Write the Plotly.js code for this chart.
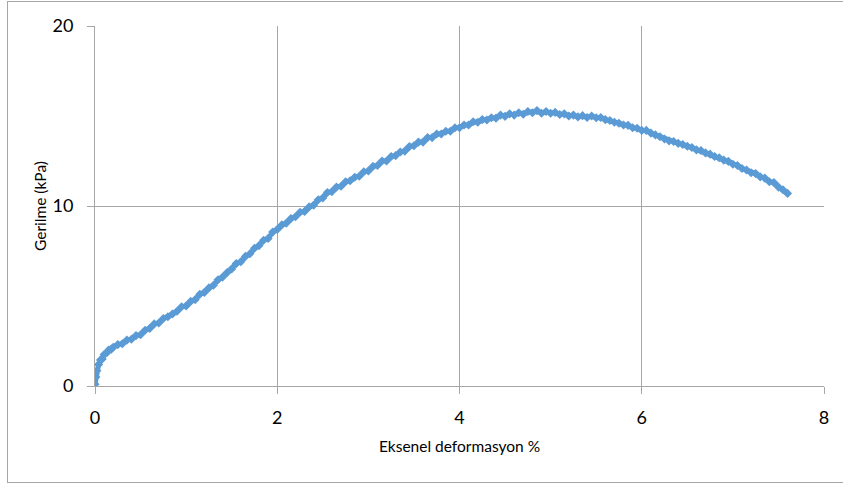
<!DOCTYPE html>
<html>
<head>
<meta charset="utf-8">
<script src="https://cdn.plot.ly/plotly-3.0.1.min.js"></script>
<style>
  html, body { margin: 0; padding: 0; background: #ffffff; }
  #frame { position: absolute; left: 7px; top: 1px; width: 850px; height: 482px; border: 1px solid #a6a6a6; box-sizing: border-box; pointer-events: none; z-index: 5; }
  #chart { position: absolute; left: 0; top: 0; width: 843px; height: 486px; }
</style>
</head>
<body>
<div id="chart"></div>
<div id="frame"></div>
<script>
// Eksenel deformasyon (%)
const strain = [
  0, 0.01, 0.02, 0.04, 0.06, 0.08, 0.1, 0.13, 0.15, 0.18,
  0.2, 0.25, 0.3, 0.35, 0.4, 0.45, 0.5, 0.55, 0.6, 0.65,
  0.7, 0.75, 0.8, 0.85, 0.9, 0.95, 1.0, 1.05, 1.1, 1.15,
  1.2, 1.25, 1.3, 1.35, 1.4, 1.45, 1.5, 1.55, 1.6, 1.65,
  1.7, 1.75, 1.8, 1.85, 1.9, 1.95, 2.0, 2.05, 2.1, 2.15,
  2.2, 2.25, 2.3, 2.35, 2.4, 2.45, 2.5, 2.55, 2.6, 2.65,
  2.7, 2.75, 2.8, 2.85, 2.9, 2.95, 3.0, 3.05, 3.1, 3.15,
  3.2, 3.25, 3.3, 3.35, 3.4, 3.45, 3.5, 3.55, 3.6, 3.65,
  3.7, 3.75, 3.8, 3.85, 3.9, 3.95, 4.0, 4.05, 4.1, 4.15,
  4.2, 4.25, 4.3, 4.35, 4.4, 4.45, 4.5, 4.55, 4.6, 4.65,
  4.7, 4.75, 4.8, 4.85, 4.9, 4.95, 5.0, 5.05, 5.1, 5.15,
  5.2, 5.25, 5.3, 5.35, 5.4, 5.45, 5.5, 5.55, 5.6, 5.65,
  5.7, 5.75, 5.8, 5.85, 5.9, 5.95, 6.0, 6.05, 6.1, 6.15,
  6.2, 6.25, 6.3, 6.35, 6.4, 6.45, 6.5, 6.55, 6.6, 6.65,
  6.7, 6.75, 6.8, 6.85, 6.9, 6.95, 7.0, 7.05, 7.1, 7.15,
  7.2, 7.25, 7.3, 7.35, 7.4, 7.45, 7.5, 7.55, 7.6
];
// Gerilme (kPa)
const stress = [
  0.1, 0.5, 0.85, 1.2, 1.45, 1.5, 1.75, 1.85, 2.0, 2.05,
  2.15, 2.3, 2.35, 2.55, 2.6, 2.8, 2.85, 3.1, 3.2, 3.45,
  3.5, 3.75, 3.85, 4.0, 4.15, 4.4, 4.45, 4.7, 4.8, 5.1,
  5.2, 5.45, 5.6, 5.9, 6.05, 6.3, 6.5, 6.8, 6.9, 7.2,
  7.35, 7.65, 7.8, 8.1, 8.2, 8.55, 8.7, 8.95, 9.05, 9.3,
  9.4, 9.65, 9.7, 9.95, 10.05, 10.35, 10.45, 10.75, 10.8, 11.05,
  11.1, 11.35, 11.4, 11.6, 11.65, 11.9, 11.95, 12.2, 12.25, 12.5,
  12.5, 12.75, 12.8, 13.0, 13.05, 13.3, 13.35, 13.55, 13.55, 13.8,
  13.8, 14.0, 14.0, 14.15, 14.15, 14.35, 14.35, 14.5, 14.5, 14.68,
  14.65, 14.8, 14.78, 14.9, 14.88, 15.05, 14.98, 15.12, 15.05, 15.18,
  15.1, 15.25, 15.18, 15.3, 15.15, 15.25, 15.15, 15.2, 15.08, 15.12,
  15.0, 15.05, 14.95, 15.02, 14.92, 15.0, 14.9, 14.92, 14.8, 14.75,
  14.65, 14.6, 14.5, 14.48, 14.35, 14.32, 14.2, 14.2, 14.05, 13.95,
  13.85, 13.72, 13.62, 13.58, 13.48, 13.42, 13.32, 13.25, 13.12, 13.08,
  12.95, 12.88, 12.75, 12.68, 12.55, 12.48, 12.32, 12.25, 12.08, 12.0,
  11.85, 11.8, 11.62, 11.55, 11.35, 11.3, 11.05, 10.9, 10.7
];
const xTicks = [0, 2, 4, 6, 8];
const yTicks = [0, 10, 20];

const trace = {
  x: strain, y: stress, type: 'scatter', mode: 'lines+markers',
  line: { color: '#5B9BD5', width: 5 },
  marker: { color: '#5B9BD5', size: 7, symbol: 'diamond' },
  hoverinfo: 'skip', showlegend: false
};

const gridCol = '#a6a6a6';
const layout = {
  width: 843, height: 486,
  margin: { l: 95, r: 19, t: 26, b: 100, pad: 0 },
  paper_bgcolor: '#ffffff', plot_bgcolor: '#ffffff',
  font: { family: 'Lato, "Open Sans", sans-serif', color: '#000000' },
  xaxis: {
    range: [0, 8], tickvals: xTicks, ticktext: xTicks.map(String),
    showgrid: true, gridcolor: gridCol, gridwidth: 1,
    showline: true, linecolor: gridCol, linewidth: 1,
    zeroline: false, ticks: 'outside', ticklen: 7, tickcolor: gridCol,
    ticklabelstandoff: 8,
    tickfont: { size: 18, color: '#000000' },
    title: { text: 'Eksenel deformasyon %', font: { size: 15.5, color: '#000000' }, standoff: 14 }
  },
  yaxis: {
    range: [0, 20], tickvals: yTicks, ticktext: yTicks.map(String),
    showgrid: true, gridcolor: gridCol, gridwidth: 1,
    showline: true, linecolor: gridCol, linewidth: 1,
    zeroline: false, ticks: 'outside', ticklen: 7, tickcolor: gridCol,
    ticklabelstandoff: 10,
    tickfont: { size: 18, color: '#000000' },
    title: { text: 'Gerilme (kPa)', font: { size: 15.5, color: '#000000' }, standoff: 2 }
  }
};

Plotly.newPlot('chart', [trace], layout, { staticPlot: true, displayModeBar: false });
</script>
</body>
</html>
